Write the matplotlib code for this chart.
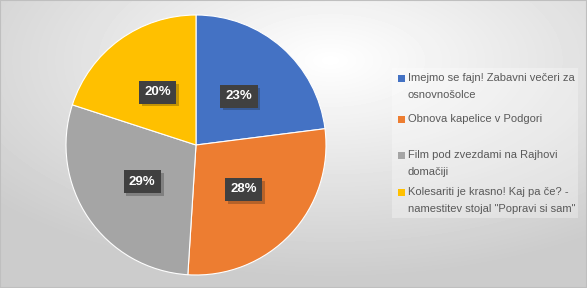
"""Pie chart of project votes with a gradient background."""

import matplotlib.pyplot as plt
import matplotlib.patheffects as pe
import numpy as np

labels = [
    "Imejmo se fajn! Zabavni večeri za\nosnovnošolce",
    "Obnova kapelice v Podgori",
    "Film pod zvezdami na Rajhovi\ndomačiji",
    "Kolesariti je krasno! Kaj pa če? -\nnamestitev stojal \"Popravi si sam\"",
]
shares = [23, 28, 29, 20]
colors = ["#4472C4", "#ED7D31", "#A5A5A5", "#FFC000"]

W, H = 587, 288
fig = plt.figure(figsize=(W / 100, H / 100), dpi=100)

# radial background gradient
bg = fig.add_axes([0, 0, 1, 1])
yy, xx = np.mgrid[0:H, 0:W]
r = np.hypot((xx - 330) / W, (yy - 60) / H) / 0.75
r = np.clip(r, 0, 1)
shade = 1.0 - 0.2 * r
bg.imshow(shade, cmap="gray", vmin=0, vmax=1, aspect="auto",
          extent=[0, 1, 0, 1], interpolation="bilinear")
bg.set_xlim(0, 1)
bg.set_ylim(0, 1)
bg.set_axis_off()
bg.add_patch(plt.Rectangle((0, 0), 1, 1, transform=bg.transAxes,
                           fill=False, ec="#bfbfbf", lw=1.5))

ax = fig.add_axes([66 / W, 13 / H, 260 / W, 260 / H])
wedges, _, autotexts = ax.pie(
    shares, colors=colors, startangle=90, counterclock=False,
    autopct="%1.0f%%", pctdistance=0.5, radius=1.0,
    wedgeprops=dict(linewidth=0.8, edgecolor="white"),
    textprops=dict(color="white", fontsize=9.5, fontweight="bold",
                   family="Liberation Sans"),
)
for t in autotexts:
    t.set_bbox(dict(boxstyle="square,pad=0.4", fc="#404040", ec="none"))
    t.get_bbox_patch().set_path_effects(
        [pe.SimplePatchShadow(offset=(2, -2), alpha=0.25), pe.Normal()])
ax.set_xlim(-1, 1)
ax.set_ylim(-1, 1)
ax.set_aspect("equal")

# legend, laid out in Excel-like slots
bg.add_patch(plt.Rectangle((392 / W, 1 - 218 / H), 186 / W, 150 / H,
                           fc="white", alpha=0.3, ec="none"))
slot_y = [78, 119, 155, 192]
for wedge, label, y in zip(wedges, labels, slot_y):
    bg.add_patch(plt.Rectangle((398 / W, 1 - (y + 3.5) / H), 7 / W, 7 / H,
                               fc=wedge.get_facecolor(), ec="none"))
    bg.text(408 / W, 1 - (y - 5) / H, label, ha="left", va="top",
            fontsize=8, family="Liberation Sans", color="#595959",
            linespacing=1.85)

fig.savefig("out.png", dpi=100)
